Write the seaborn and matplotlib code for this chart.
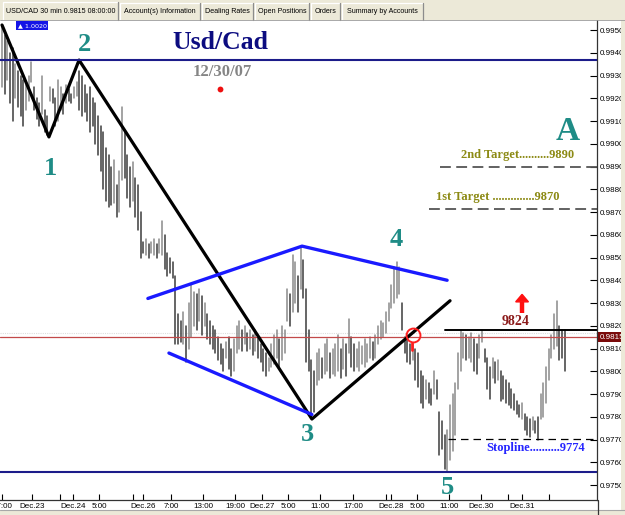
import numpy as np
import pandas as pd
import matplotlib
matplotlib.use("Agg")
import matplotlib.pyplot as plt
import matplotlib.transforms as mtrans
from matplotlib.patches import Rectangle, Polygon
import seaborn as sns

# ---------------- data (prices in pips, 0.xxxx * 10000) ----------------
bar_high_pips = [
    9952, 9948, 9945, 9940, 9942, 9935, 9932, 9930, 9928, 9926,
    9930, 9936, 9925, 9920, 9918, 9930, 9915, 9912, 9925, 9924,
    9920, 9928, 9925, 9922, 9926, 9924, 9922, 9925, 9927, 9932,
    9930, 9926, 9922, 9925, 9920, 9918, 9912, 9908, 9905, 9898,
    9895, 9890, 9893, 9882, 9888, 9916, 9905, 9895, 9890, 9892,
    9885, 9882, 9870, 9857, 9858, 9856, 9857, 9858, 9856, 9858,
    9866, 9860, 9852, 9850, 9848, 9842, 9825, 9822, 9826, 9820,
    9830, 9838, 9835, 9834, 9836, 9833, 9830, 9825, 9822, 9820,
    9818, 9815, 9812, 9810, 9813, 9815, 9810, 9814, 9820, 9822,
    9818, 9820, 9817, 9818, 9816, 9818, 9815, 9812, 9810, 9808,
    9806, 9812, 9816, 9818, 9814, 9820, 9818, 9836, 9834, 9851,
    9848, 9842, 9854, 9849, 9836, 9818, 9805, 9800, 9808, 9810,
    9806, 9812, 9814, 9808, 9810, 9812, 9816, 9810, 9814, 9812,
    9823, 9815, 9812, 9810, 9813, 9811, 9814, 9812, 9815, 9813,
    9816, 9820, 9822, 9821, 9826, 9830, 9838, 9846, 9848, 9846,
    9830, 9815, 9816, 9812, 9812, 9810, 9808, 9800, 9798, 9796,
    9795, 9792, 9800, 9796, 9782, 9778, 9772, 9774, 9785, 9790,
    9795, 9808, 9818, 9817, 9816, 9815, 9817, 9814, 9812, 9816,
    9818, 9810, 9806, 9802, 9806, 9804, 9805, 9800, 9798, 9796,
    9795, 9792, 9790, 9787, 9785, 9786, 9781, 9780, 9779, 9780,
    9778, 9780, 9790, 9795, 9802, 9810, 9816, 9825, 9831, 9820,
    9818, 9818,
]
bar_low_pips = [
    9925, 9922, 9928, 9918, 9910, 9920, 9916, 9912, 9908, 9915,
    9919, 9927, 9915, 9911, 9908, 9913, 9905, 9904, 9919, 9918,
    9908, 9910, 9915, 9913, 9918, 9919, 9918, 9920, 9921, 9915,
    9912, 9914, 9910, 9905, 9908, 9900, 9895, 9888, 9880, 9875,
    9872, 9873, 9874, 9868, 9870, 9884, 9885, 9876, 9872, 9875,
    9868, 9862, 9850, 9852, 9851, 9850, 9852, 9851, 9850, 9852,
    9851, 9845, 9842, 9843, 9841, 9812, 9812, 9813, 9812, 9804,
    9810, 9815, 9820, 9818, 9822, 9816, 9820, 9814, 9812, 9810,
    9808, 9805, 9803, 9800, 9806, 9801, 9798, 9800, 9808, 9810,
    9809, 9812, 9809, 9810, 9807, 9809, 9806, 9804, 9800, 9798,
    9800, 9802, 9803, 9806, 9802, 9805, 9808, 9822, 9820, 9826,
    9830, 9826, 9836, 9832, 9804, 9800, 9781, 9782, 9794, 9796,
    9797, 9799, 9800, 9797, 9799, 9798, 9800, 9797, 9801, 9798,
    9808, 9802, 9800, 9802, 9800, 9803, 9802, 9804, 9806, 9805,
    9806, 9812, 9814, 9815, 9817, 9822, 9828, 9830, 9832, 9834,
    9818, 9808, 9804, 9803, 9805, 9796, 9793, 9786, 9784, 9788,
    9786, 9785, 9790, 9788, 9763, 9766, 9757, 9756, 9761, 9765,
    9772, 9792, 9800, 9806, 9805, 9806, 9804, 9800, 9799, 9806,
    9813, 9804, 9792, 9788, 9797, 9795, 9796, 9787, 9788, 9786,
    9785, 9784, 9783, 9781, 9780, 9779, 9774, 9772, 9771, 9774,
    9773, 9770, 9779, 9780, 9786, 9796, 9806, 9810, 9811, 9805,
    9806, 9800,
]

time_tick_bars = [0, 11.25, 21.75, 26.6, 36.4, 49.1, 52.9, 63.4, 75.4, 87.4, 97.5,
                  107.2, 119.2, 131.6, 144.0, 145.9, 155.6, 167.6, 179.6, 189.7, 195.0, 205.1]
time_tick_labels = ["17:00", "Dec.23", "", "Dec.24", "5:00", "", "Dec.26", "7:00", "13:00",
                    "19:00", "Dec.27", "5:00", "11:00", "17:00", "", "Dec.28", "5:00", "11:00",
                    "Dec.30", "", "Dec.31", ""]
price_ticks = [0.9750 + 0.001 * k for k in range(21)]

wave_bars = [0, 17.6, 28.9, 116.2, 168.0]
wave_prices = [0.99522, 0.99030, 0.99368, 0.97790, 0.98310]
wave_labels = ["1", "2", "3", "4", "5"]
wave_label_bars = [18.0, 31.1, 114.7, 147.7, 166.9]
wave_label_prices = [0.98893, 0.99438, 0.97720, 0.98577, 0.97490]

wedge_top_bars = [54.7, 112.5, 166.9]
wedge_top_prices = [0.98320, 0.98550, 0.98400]
wedge_bot_bars = [62.6, 116.2]
wedge_bot_prices = [0.98080, 0.97810]

upper_level = 0.99368
lower_level = 0.97557
last_price = 0.9815
breakout_level = 0.98181
target1, target2, stop_level = 0.98713, 0.98898, 0.97702

tab_names = ["USD/CAD 30 min 0.9815 08:00:00", "Account(s) Information", "Dealing Rates",
             "Open Positions", "Orders", "Summary by Accounts"]

# ---------------- frame ----------------
bars = pd.DataFrame({
    "bar": np.arange(len(bar_high_pips)),
    "high": np.array(bar_high_pips) / 10000.0,
    "low": np.array(bar_low_pips) / 10000.0,
})
mid = (bars["high"] + bars["low"]) / 2
bars["dir"] = np.where(mid.diff().fillna(0) < 0, "down", "up")
long = bars.melt(id_vars=["bar", "dir"], value_vars=["low", "high"], value_name="price")

sns.set_theme(style="white")
plt.rcParams["font.family"] = ["Liberation Sans", "DejaVu Sans"]
SERIF = ["Liberation Serif", "DejaVu Serif"]

W, H = 625, 515
fig = plt.figure(figsize=(W / 100, H / 100), dpi=100, facecolor="white")
ax = fig.add_axes([0, 15 / H, 597 / W, 480 / H])
ax.set_facecolor("white")

# bars
sns.lineplot(data=long, x="bar", y="price", units="bar", estimator=None, hue="dir",
             palette={"up": "#8a8a8a", "down": "#3c3c3c"}, lw=1.1, legend=False, ax=ax,
             sort=False)

# horizontal levels
ax.axhline(upper_level, color="#1c1c8a", lw=1.5, zorder=3)
ax.axhline(lower_level, color="#1c1c8a", lw=1.5, zorder=3)
ax.axhline(last_price, color="#c24a4a", lw=0.9, zorder=2)
ax.axhline(last_price + 0.00016, color="#dddddd", lw=0.8, ls=(0, (1, 1)), zorder=1)

# elliott wave zigzag and wedge
sns.lineplot(x=wave_bars, y=wave_prices, sort=False, estimator=None, color="black", lw=2.3, ax=ax)
sns.lineplot(x=wedge_top_bars, y=wedge_top_prices, sort=False, estimator=None, color="#1a1aff", lw=2.4, ax=ax)
sns.lineplot(x=wedge_bot_bars, y=wedge_bot_prices, sort=False, estimator=None, color="#1a1aff", lw=2.4, ax=ax)

xmax = 223.1
# targets, breakout, stop
ax.plot([164.2, xmax], [target2, target2], color="#555555", lw=1.3, dashes=(6, 3))
ax.plot([160.1, xmax], [target1, target1], color="#555555", lw=1.3, dashes=(6, 3))
ax.plot([167.2, xmax], [stop_level, stop_level], color="black", lw=0.9, dashes=(6, 4))
ax.plot([166.1, xmax], [breakout_level, breakout_level], color="black", lw=1.4)

# red circle
ax.plot([154.1], [0.98159], marker="o", ms=10, mfc="none", mec="#ff2020", mew=1.4)
ax.plot([153.8, 153.8], [0.98124, 0.98093], color="#ff2020", lw=2)

# red arrow up
ax.add_patch(Polygon([[192.6, 0.98305], [197.4, 0.98305], [195.0, 0.98338]], closed=True,
                     color="#ff1010", zorder=5))
ax.plot([195.0, 195.0], [0.98256, 0.98306], color="#ff1010", lw=3.2, solid_capstyle="butt")

# texts
teal = "#1f8c86"
for lab, bx, py in zip(wave_labels, wave_label_bars, wave_label_prices):
    ax.text(bx, py, lab, fontsize=19, fontweight="bold", color=teal, family=SERIF,
            ha="center", va="center")
ax.text(212.2, 0.99056, "A", fontsize=24, fontweight="bold", color=teal, family=SERIF,
        ha="center", va="center")
ax.text(81.7, 0.99443, "Usd/Cad", fontsize=18.5, fontweight="bold", color="#0c0c80",
        family=SERIF, ha="center", va="center")
ax.text(82.5, 0.99315, "12/30/07", fontsize=12, fontweight="bold", color="#858585",
        family=SERIF, ha="center", va="center")
ax.plot([81.7], [0.99240], marker="o", ms=4.2, color="#ee1010", mec="none")

olive = "#8c8a14"
ax.text(172.1, 0.98950, "2nd Target..........9890", fontsize=9, fontweight="bold",
        color=olive, family=SERIF, ha="left", va="center")
ax.text(162.7, 0.98766, "1st Target ..............9870", fontsize=9, fontweight="bold",
        color=olive, family=SERIF, ha="left", va="center")
ax.text(181.5, 0.97663, "Stopline..........9774", fontsize=9, fontweight="bold",
        color="#2626ff", family=SERIF, ha="left", va="center")
ax.text(192.4, 0.98220, "9824", fontsize=10, fontweight="bold", color="#8b1a1a",
        family=SERIF, ha="center", va="center")

ax.text(11.3, 0.99520, "\u25b2 1.0020", fontsize=4.6, color="white", ha="center", va="center",
        family=["DejaVu Sans"],
        bbox=dict(boxstyle="square,pad=0.25", fc="#1414e6", ec="none"))

# axes setup
ax.set_xlim(-0.75, xmax)
ax.set_ylim(0.974341, 0.995440)
ax.set_xlabel("")
ax.set_ylabel("")
ax.yaxis.tick_right()
ax.set_yticks(price_ticks)
ax.set_yticklabels([f"{p:.4f}" for p in price_ticks])
ax.set_xticks(time_tick_bars)
ax.set_xticklabels(time_tick_labels)
ax.tick_params(axis="y", direction="in", length=5, width=0.8, labelsize=5.8, pad=2,
               colors="black", right=True, left=False)
ax.tick_params(axis="x", direction="in", length=4, width=0.8, labelsize=5.8, pad=2,
               colors="black", bottom=True)
for s in ["left", "top"]:
    ax.spines[s].set_visible(False)
for s in ["right", "bottom"]:
    ax.spines[s].set_visible(True)
    ax.spines[s].set_color("#333333")
    ax.spines[s].set_linewidth(0.9)

# current price tag
tr = mtrans.blended_transform_factory(ax.transAxes, ax.transData)
ax.text(1.004, last_price, "0.9815", transform=tr, fontsize=5.8, color="white",
        ha="left", va="center", clip_on=False,
        bbox=dict(boxstyle="square,pad=0.15", fc="#7a0a0a", ec="none"))

# ---------------- window chrome (overlay in pixel space) ----------------
ov = fig.add_axes([0, 0, 1, 1], zorder=10)
ov.set_xlim(0, W)
ov.set_ylim(H, 0)
ov.axis("off")
ov.patch.set_alpha(0)
chrome = "#ece9d8"
ov.add_patch(Rectangle((0, 0), W, 20, fc=chrome, ec="none"))
ov.add_patch(Rectangle((0, 510), W, 5, fc=chrome, ec="none"))
ov.plot([0, W], [510, 510], color="#a8a8a8", lw=0.8)
ov.add_patch(Rectangle((621, 0), 4, H, fc=chrome, ec="none"))
ov.plot([597.5, 597.5], [500, 515], color="#333333", lw=0.9)

tab_edges = [(3, 118), (120, 200), (202, 253), (255, 309), (311, 340), (342, 423)]
for name, (x0, x1) in zip(tab_names, tab_edges):
    top = 2 if x0 == 3 else 3
    ov.plot([x0, x0, x1 - 1], [20, top, top], color="white", lw=0.9)
    ov.plot([x1, x1], [top, 20], color="#8c8c8c", lw=0.9)
    ov.text((x0 + x1) / 2, 11.5, name, fontsize=5.1, color="black", ha="center", va="center",
            family=["Liberation Sans", "DejaVu Sans"])
ov.plot([0, W], [20, 20], color="#9a9a9a", lw=0.6)

fig.savefig("out.png", dpi=100, facecolor="white")
